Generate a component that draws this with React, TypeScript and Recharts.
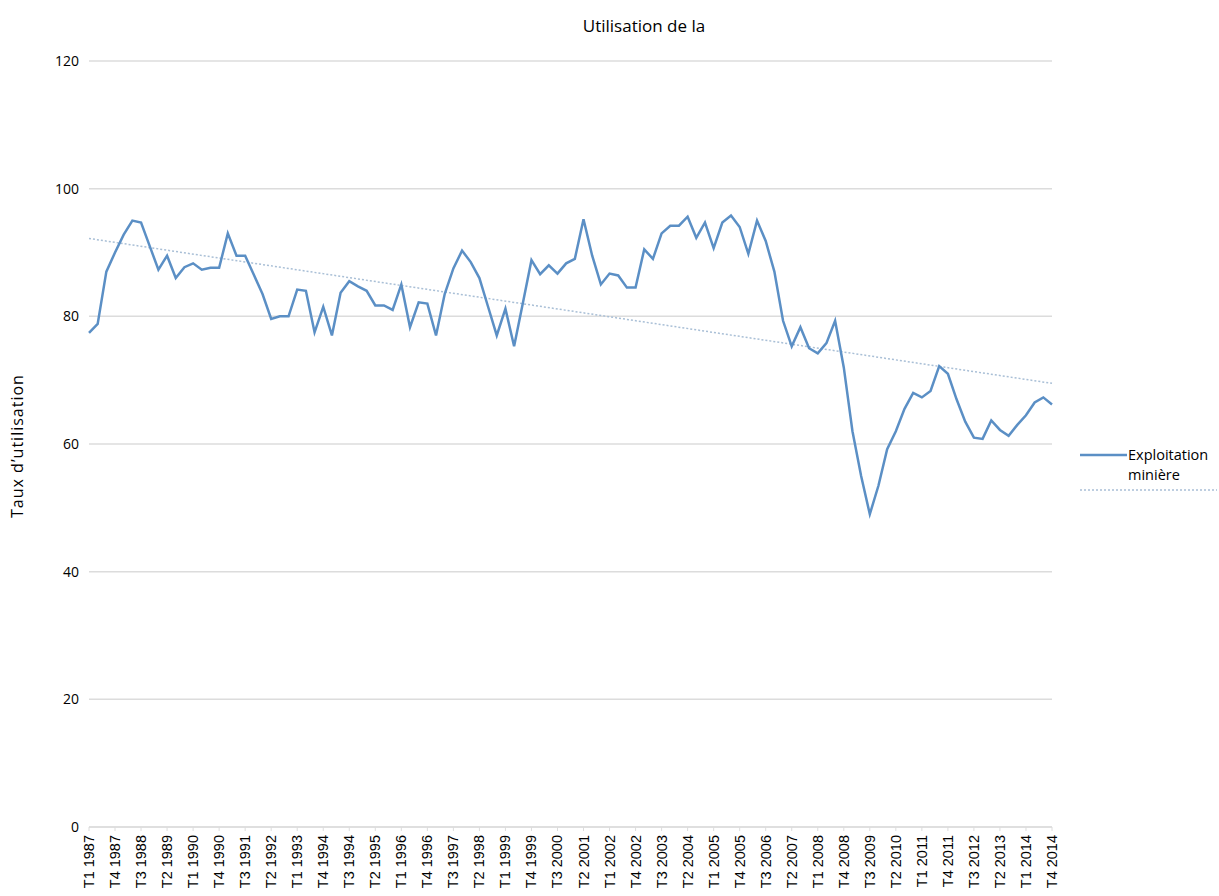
import React from "react";
import {
  LineChart,
  Line,
  XAxis,
  YAxis,
  CartesianGrid,
  Legend,
  ReferenceLine,
} from "recharts";

const years: number[] = [];
for (let y = 1987; y <= 2014; y++) years.push(y);
const quarterNames = ["T1", "T2", "T3", "T4"];
const categories: string[] = [];
years.forEach((y) => quarterNames.forEach((q) => categories.push(`${q} ${y}`)));
// label as printed in the source chart
const categoryLabelOverrides: Record<number, string> = { 27: "T4 1994" };
Object.keys(categoryLabelOverrides).forEach((k) => {
  categories[Number(k)] = categoryLabelOverrides[Number(k)];
});

const miningValues = [
  77.4, 78.8, 87, 90, 92.8, 95, 94.7, 91, 87.3, 89.5,
  86, 87.7, 88.3, 87.3, 87.6, 87.6, 93, 89.5, 89.5, 86.5,
  83.5, 79.6, 80, 80, 84.2, 84, 77.5, 81.5, 77, 83.7,
  85.5, 84.7, 84, 81.7, 81.7, 81, 85, 78.3, 82.2, 82,
  77, 83.5, 87.5, 90.3, 88.5, 86, 81.5, 77, 81.2, 75.3,
  82, 88.8, 86.6, 88, 86.7, 88.3, 89, 95.2, 89.5, 85,
  86.7, 86.4, 84.5, 84.5, 90.5, 89, 93, 94.2, 94.2, 95.6,
  92.3, 94.7, 90.7, 94.7, 95.8, 94, 89.8, 95, 91.8, 87,
  79.3, 75.3, 78.3, 75, 74.2, 75.8, 79.3, 72, 62, 55,
  49, 53.5, 59.2, 62, 65.5, 68, 67.3, 68.3, 72.2, 71,
  67, 63.5, 61, 60.8, 63.7, 62.2, 61.3, 63, 64.5, 66.5,
  67.3, 66.2,
];

const trendStart = 92.2;
const trendEnd = 69.5;
const yTicks = [0, 20, 40, 60, 80, 100, 120];

const data = categories.map((c, i) => ({ cat: c, mining: miningValues[i] }));

const LINE_COLOR = "#5b8fc5";
const TREND_COLOR = "#a9bfd6";

const XTick = (props: any) => {
  const { x, y, payload } = props;
  return (
    <text
      x={x}
      y={y}
      transform={`rotate(-90 ${x} ${y})`}
      textAnchor="end"
      dominantBaseline="central"
      fontFamily="Liberation Sans, Arial, sans-serif"
      fontSize={14.5}
      fill="#000"
    >
      {payload.value}
    </text>
  );
};

const LegendContent = () => (
  <svg width={141} height={60}>
    <line x1={2} y1={10} x2={49} y2={10} stroke={LINE_COLOR} strokeWidth={2.5} />
    <text x={50} y={15} fontFamily="Open Sans, sans-serif" fontSize={14.5} fill="#000">
      Exploitation
    </text>
    <text x={50} y={35} fontFamily="Open Sans, sans-serif" fontSize={14.5} fill="#000">
      minière
    </text>
    <line x1={2} y1={45} x2={139} y2={45} stroke={TREND_COLOR} strokeWidth={1.5} strokeDasharray="2 2" />
  </svg>
);

export default function App() {
  return (
    <div style={{ position: "absolute", left: 0, top: 0, width: 1219, height: 896, background: "#fff" }}>
      <div
        style={{
          position: "absolute",
          left: 0,
          top: 14,
          width: 1288,
          textAlign: "center",
          fontFamily: "Open Sans, sans-serif",
          fontSize: 17,
          color: "#000",
        }}
      >
        Utilisation de la
      </div>
      <LineChart
        width={1219}
        height={896}
        data={data}
        margin={{ top: 61, right: 26, bottom: 0, left: 0 }}
      >
        <CartesianGrid horizontal vertical={false} stroke="#dcdcdc" strokeWidth={1.5} />
        <XAxis
          dataKey="cat"
          interval={2}
          height={69}
          tick={<XTick />}
          tickLine={{ stroke: "#dcdcdc" }}
          tickSize={4}
          tickMargin={4}
          axisLine={{ stroke: "#dcdcdc", strokeWidth: 1.5 }}
        />
        <YAxis
          width={89}
          domain={[0, 120]}
          ticks={yTicks}
          axisLine={false}
          tickLine={false}
          tickMargin={4}
          tick={{ fontFamily: "Open Sans, sans-serif", fontSize: 14, fill: "#000" }}
          label={{
            content: () => (
              <text
                x={17}
                y={446}
                transform="rotate(-90 17 446)"
                textAnchor="middle"
                dominantBaseline="central"
                fontFamily="Open Sans, sans-serif"
                fontSize={16}
                letterSpacing={1}
                fill="#000"
              >
                Taux d’utilisation
              </text>
            ),
          }}
        />
        <ReferenceLine
          segment={[
            { x: categories[0], y: trendStart },
            { x: categories[categories.length - 1], y: trendEnd },
          ]}
          stroke={TREND_COLOR}
          strokeWidth={1.5}
          strokeDasharray="2 2"
        />
        <Line
          type="linear"
          dataKey="mining"
          stroke={LINE_COLOR}
          strokeWidth={2.5}
          dot={false}
          isAnimationActive={false}
        />
        <Legend
          layout="horizontal"
          verticalAlign="middle"
          align="right"
          content={<LegendContent />}
          wrapperStyle={{ left: 1078, top: 445, width: 141, right: "auto" }}
        />
      </LineChart>
    </div>
  );
}
